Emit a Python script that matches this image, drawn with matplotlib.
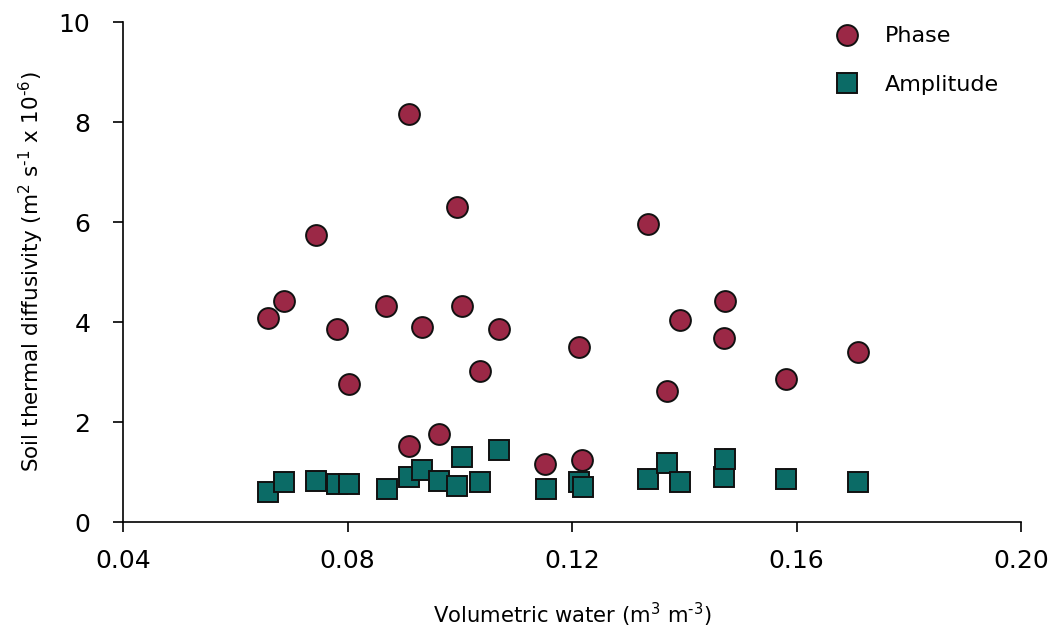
import matplotlib
matplotlib.use("Agg")
import matplotlib.pyplot as plt

phase_x = [0.0658, 0.0687, 0.0744, 0.0781, 0.0803, 0.0869, 0.0910, 0.0910, 0.0933, 0.0963,
           0.0995, 0.1004, 0.1036, 0.1070, 0.1152, 0.1212, 0.1218, 0.1335, 0.1369, 0.1392,
           0.1470, 0.1472, 0.1581, 0.1709]
phase_y = [4.08, 4.42, 5.74, 3.86, 2.76, 4.32, 8.16, 1.52, 3.90, 1.76,
           6.30, 4.32, 3.02, 3.86, 1.16, 3.50, 1.24, 5.96, 2.62, 4.04,
           3.68, 4.42, 2.86, 3.40]

amp_x = [0.0658, 0.0687, 0.0744, 0.0781, 0.0803, 0.0870, 0.0910, 0.0933, 0.0963, 0.0995,
         0.1004, 0.1036, 0.1070, 0.1153, 0.1212, 0.1219, 0.1335, 0.1369, 0.1392, 0.1470,
         0.1473, 0.1581, 0.1709]
amp_y = [0.60, 0.80, 0.82, 0.76, 0.76, 0.66, 0.90, 1.04, 0.82, 0.72,
         1.30, 0.80, 1.44, 0.66, 0.80, 0.70, 0.86, 1.18, 0.80, 0.90,
         1.26, 0.86, 0.80]

x_ticks = [0.04, 0.08, 0.12, 0.16, 0.20]
x_ticklabels = ["0.04", "0.08", "0.12", "0.16", "0.20"]
y_ticks = [0, 2, 4, 6, 8, 10]

plt.rcParams['font.family'] = ['DejaVu Sans']
plt.rcParams['mathtext.default'] = 'regular'

fig = plt.figure(figsize=(10.62, 6.30), dpi=100)
ax = fig.add_axes([123/1062, 108/630, 898/1062, 500/630])

ax.plot(phase_x, phase_y, linestyle='none', marker='o', markersize=15,
        markerfacecolor='#9B2846', markeredgecolor='#111111', markeredgewidth=1.4,
        label='Phase', zorder=3)
ax.plot(amp_x, amp_y, linestyle='none', marker='s', markersize=14.5,
        markerfacecolor='#0B6B66', markeredgecolor='#111111', markeredgewidth=1.4,
        label='Amplitude', zorder=2)

ax.set_xlim(0.04, 0.20)
ax.set_ylim(0, 10)
ax.set_xticks(x_ticks)
ax.set_xticklabels(x_ticklabels)
ax.set_yticks(y_ticks)
ax.spines['top'].set_visible(False)
ax.spines['right'].set_visible(False)
for s in ['left', 'bottom']:
    ax.spines[s].set_linewidth(1.2)
ax.tick_params(axis='both', direction='out', length=7.5, width=1.2, labelsize=18)
ax.tick_params(axis='x', pad=12)
ax.tick_params(axis='y', pad=16)

ax.set_xlabel('Volumetric water (m$^3$ m$^{\\text{-}3}$)', fontsize=15.2, labelpad=20)
ax.set_ylabel('Soil thermal diffusivity (m$^2$ s$^{\\text{-}1}$ x 10$^{\\text{-}6}$)',
              fontsize=15.5, labelpad=9)

ax.legend(loc='upper right', bbox_to_anchor=(0.99, 1.018), frameon=False, fontsize=16,
          labelspacing=1.3, handletextpad=0.7, borderaxespad=0.2)

fig.savefig('out.png', dpi=100)
